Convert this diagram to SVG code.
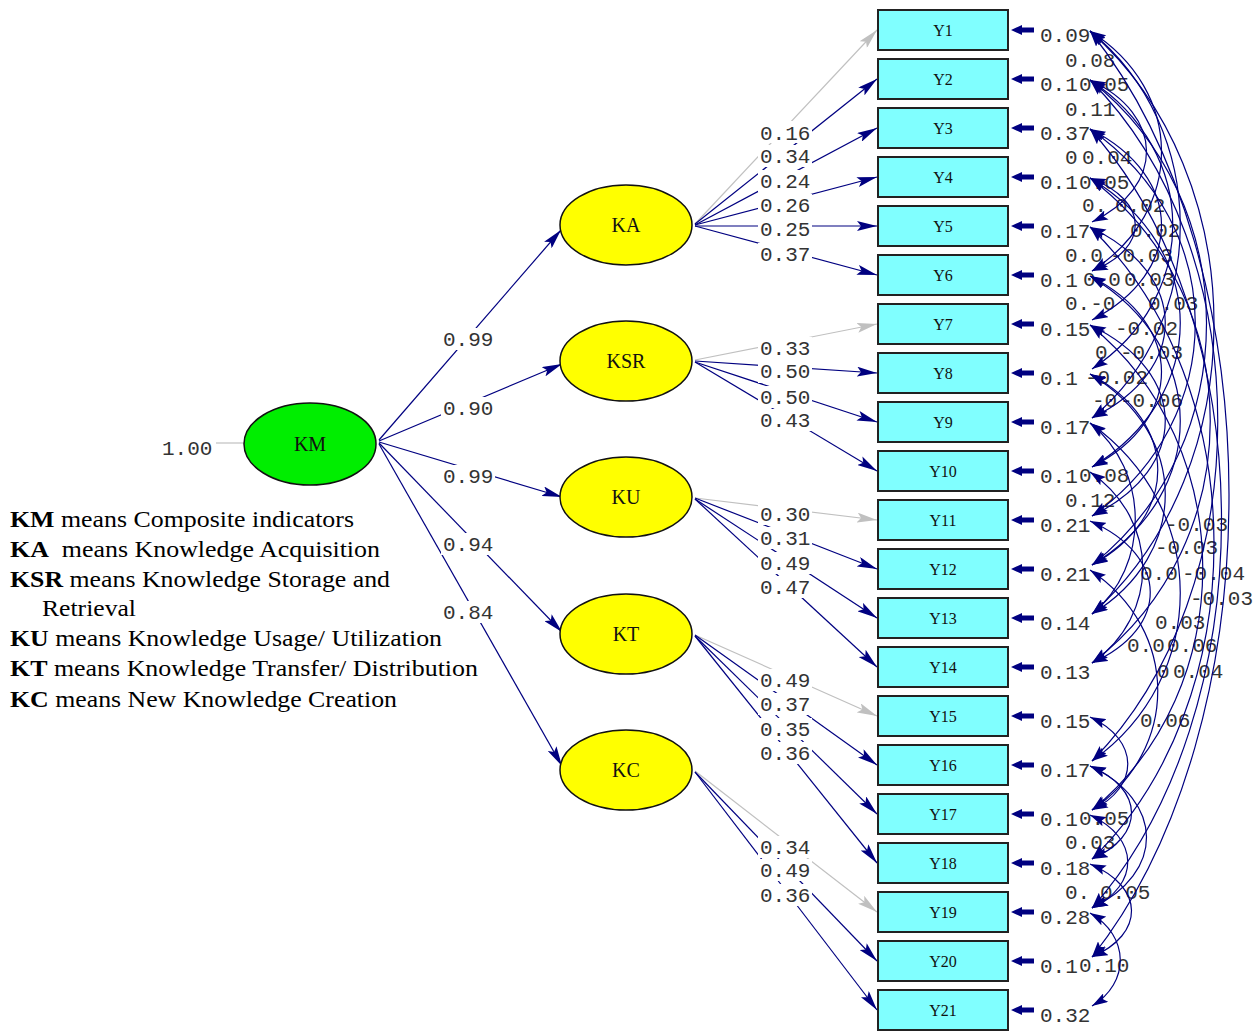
<svg xmlns="http://www.w3.org/2000/svg" xmlns:xlink="http://www.w3.org/1999/xlink" width="1256" height="1034" viewBox="0 0 1256 1034">
<style>
.ln{stroke:#000080;stroke-width:1.2;fill:none;marker-end:url(#ahL)}
.lg{stroke:#c0c0c0;stroke-width:1.2;fill:none;marker-end:url(#ahG)}
.arc{stroke:#000080;stroke-width:1.2;fill:none;marker-start:url(#ah);marker-end:url(#ah)}
.num{font-family:"Liberation Mono","DejaVu Sans Mono",monospace;font-size:21px;fill:#333}
.bg{fill:#fff}
.box{fill:#80ffff;stroke:#222;stroke-width:2}
.bt{font-family:"Liberation Serif","DejaVu Serif",serif;font-size:16px;fill:#111;text-anchor:middle}
.et{font-family:"Liberation Serif","DejaVu Serif",serif;font-size:20px;fill:#111;text-anchor:middle}
.fac{fill:#ffff00;stroke:#111;stroke-width:1.5}
.leg{font-family:"Liberation Serif","Times New Roman",serif;font-size:23px;fill:#000}
.ea{fill:#000080}
</style>
<defs>
<marker id="ahL" viewBox="0 0 20 10" refX="20" refY="5" markerWidth="20" markerHeight="10" markerUnits="userSpaceOnUse" orient="auto"><path d="M0,0 L20,5 L0,10 L4,5 Z" fill="#000080"/></marker>
<marker id="ahG" viewBox="0 0 20 10" refX="20" refY="5" markerWidth="20" markerHeight="10" markerUnits="userSpaceOnUse" orient="auto"><path d="M0,0 L20,5 L0,10 L4,5 Z" fill="#c0c0c0"/></marker>
<marker id="ah" viewBox="0 0 16 10" refX="16" refY="5" markerWidth="16" markerHeight="10" markerUnits="userSpaceOnUse" orient="auto-start-reverse"><path d="M0,0 L16,5 L0,10 L3,5 Z" fill="#000080"/></marker>
<path id="ea" d="M23,-2.5 H11 V-5 L0,0 L11,5 V2.5 H23 Z"/>
</defs>

<g id="connectors">
<line x1="216" y1="443" x2="245" y2="443" stroke="#c0c0c0" stroke-width="1.2"/>
<line class="ln" x1="379" y1="440" x2="561" y2="230"/>
<line class="ln" x1="379" y1="441" x2="562" y2="364"/>
<line class="ln" x1="379" y1="442" x2="562" y2="497"/>
<line class="ln" x1="379" y1="443" x2="562" y2="632"/>
<line class="ln" x1="379" y1="444" x2="562" y2="766"/>

<line class="lg" x1="695" y1="224" x2="877" y2="30"/>
<line class="ln" x1="695" y1="224" x2="877" y2="79"/>
<line class="ln" x1="695" y1="225" x2="877" y2="128"/>
<line class="ln" x1="695" y1="225" x2="877" y2="177"/>
<line class="ln" x1="695" y1="226" x2="877" y2="226"/>
<line class="ln" x1="695" y1="226" x2="877" y2="275"/>

<line class="lg" x1="695" y1="360" x2="877" y2="324"/>
<line class="ln" x1="695" y1="361" x2="877" y2="373"/>
<line class="ln" x1="695" y1="362" x2="877" y2="422"/>
<line class="ln" x1="695" y1="362" x2="877" y2="471"/>

<line class="lg" x1="695" y1="498" x2="877" y2="520"/>
<line class="ln" x1="695" y1="498" x2="877" y2="569"/>
<line class="ln" x1="695" y1="499" x2="877" y2="618"/>
<line class="ln" x1="695" y1="499" x2="877" y2="667"/>

<line class="lg" x1="695" y1="635" x2="877" y2="716"/>
<line class="ln" x1="695" y1="635" x2="877" y2="765"/>
<line class="ln" x1="695" y1="636" x2="877" y2="814"/>
<line class="ln" x1="695" y1="636" x2="877" y2="863"/>

<line class="lg" x1="695" y1="771" x2="877" y2="912"/>
<line class="ln" x1="695" y1="772" x2="877" y2="961"/>
<line class="ln" x1="695" y1="772" x2="877" y2="1010"/>

<g class="ea">
<use xlink:href="#ea" x="1011" y="30"/><use xlink:href="#ea" x="1011" y="79"/><use xlink:href="#ea" x="1011" y="128"/>
<use xlink:href="#ea" x="1011" y="177"/><use xlink:href="#ea" x="1011" y="226"/><use xlink:href="#ea" x="1011" y="275"/>
<use xlink:href="#ea" x="1011" y="324"/><use xlink:href="#ea" x="1011" y="373"/><use xlink:href="#ea" x="1011" y="422"/>
<use xlink:href="#ea" x="1011" y="471"/><use xlink:href="#ea" x="1011" y="520"/><use xlink:href="#ea" x="1011" y="569"/>
<use xlink:href="#ea" x="1011" y="618"/><use xlink:href="#ea" x="1011" y="667"/><use xlink:href="#ea" x="1011" y="716"/>
<use xlink:href="#ea" x="1011" y="765"/><use xlink:href="#ea" x="1011" y="814"/><use xlink:href="#ea" x="1011" y="863"/>
<use xlink:href="#ea" x="1011" y="912"/><use xlink:href="#ea" x="1011" y="961"/><use xlink:href="#ea" x="1011" y="1010"/>
</g>
</g>

<g id="loading-labels" class="num">
<rect class="bg" x="441" y="328" width="54" height="22"/><text x="443" y="346">0.99</text>
<rect class="bg" x="441" y="397" width="54" height="22"/><text x="443" y="415">0.90</text>
<rect class="bg" x="441" y="465" width="54" height="22"/><text x="443" y="483">0.99</text>
<rect class="bg" x="441" y="533" width="54" height="22"/><text x="443" y="551">0.94</text>
<rect class="bg" x="441" y="601" width="54" height="22"/><text x="443" y="619">0.84</text>
<text x="162" y="455">1.00</text>

<rect class="bg" x="758" y="121" width="54" height="22"/><text x="760" y="140">0.16</text>
<rect class="bg" x="758" y="145" width="54" height="22"/><text x="760" y="163">0.34</text>
<rect class="bg" x="758" y="170" width="54" height="22"/><text x="760" y="188">0.24</text>
<rect class="bg" x="758" y="194" width="54" height="22"/><text x="760" y="212">0.26</text>
<rect class="bg" x="758" y="219" width="54" height="22"/><text x="760" y="236">0.25</text>
<rect class="bg" x="758" y="243" width="54" height="22"/><text x="760" y="261">0.37</text>

<rect class="bg" x="758" y="337" width="54" height="22"/><text x="760" y="355">0.33</text>
<rect class="bg" x="758" y="361" width="54" height="22"/><text x="760" y="378">0.50</text>
<rect class="bg" x="758" y="386" width="54" height="22"/><text x="760" y="404">0.50</text>
<rect class="bg" x="758" y="409" width="54" height="22"/><text x="760" y="427">0.43</text>

<rect class="bg" x="758" y="503" width="54" height="22"/><text x="760" y="521">0.30</text>
<rect class="bg" x="758" y="527" width="54" height="22"/><text x="760" y="545">0.31</text>
<rect class="bg" x="758" y="552" width="54" height="22"/><text x="760" y="570">0.49</text>
<rect class="bg" x="758" y="576" width="54" height="22"/><text x="760" y="594">0.47</text>

<rect class="bg" x="758" y="669" width="54" height="22"/><text x="760" y="687">0.49</text>
<rect class="bg" x="758" y="693" width="54" height="22"/><text x="760" y="711">0.37</text>
<rect class="bg" x="758" y="718" width="54" height="22"/><text x="760" y="736">0.35</text>
<rect class="bg" x="758" y="742" width="54" height="22"/><text x="760" y="760">0.36</text>

<rect class="bg" x="758" y="836" width="54" height="22"/><text x="760" y="854">0.34</text>
<rect class="bg" x="758" y="859" width="54" height="22"/><text x="760" y="877">0.49</text>
<rect class="bg" x="758" y="884" width="54" height="22"/><text x="760" y="902">0.36</text>
</g>

<g id="error-labels" class="num">
<text x="1040" y="42">0.09</text><text x="1040" y="91">0.1</text><text x="1040" y="140">0.37</text>
<text x="1040" y="189">0.1</text><text x="1040" y="238">0.17</text><text x="1040" y="287">0.1</text>
<text x="1040" y="336">0.15</text><text x="1040" y="385">0.1</text><text x="1040" y="434">0.17</text>
<text x="1040" y="483">0.1</text><text x="1040" y="532">0.21</text><text x="1040" y="581">0.21</text>
<text x="1040" y="630">0.14</text><text x="1040" y="679">0.13</text><text x="1040" y="728">0.15</text>
<text x="1040" y="777">0.17</text><text x="1040" y="826">0.1</text><text x="1040" y="875">0.18</text>
<text x="1040" y="924">0.28</text><text x="1040" y="973">0.1</text><text x="1040" y="1022">0.32</text>
</g>

<g id="covariance-labels" class="num">
<text x="1065" y="67">0.08</text>
<text x="1079" y="91">0.05</text>
<text x="1065" y="116">0.11</text>
<text x="1065" y="164">0</text><text x="1082" y="164">0.04</text>
<text x="1079" y="189">0.05</text>
<text x="1082" y="212">0.</text><text x="1115" y="212">0.02</text>
<text x="1130" y="237">0.02</text>
<text x="1065" y="262">0.0</text><text x="1110" y="262">-0.03</text>
<text x="1083" y="286">0.0</text><text x="1124" y="286">0.03</text>
<text x="1065" y="310">0.-0</text><text x="1148" y="310">0.03</text>
<text x="1115" y="335">-0.02</text>
<text x="1095" y="359">0</text><text x="1120" y="359">-0.03</text>
<text x="1085" y="384">-0.02</text>
<text x="1092" y="407">-0</text><text x="1120" y="407">-0.06</text>
<text x="1079" y="482">0.08</text>
<text x="1065" y="507">0.12</text>
<text x="1165" y="531">-0.03</text>
<text x="1155" y="554">-0.03</text>
<text x="1140" y="580">0.0</text><text x="1182" y="580">-0.04</text>
<text x="1190" y="605">-0.03</text>
<text x="1155" y="629">0.03</text>
<text x="1127" y="652">0.0</text><text x="1167" y="652">0.06</text>
<text x="1157" y="678">0</text><text x="1173" y="678">0.04</text>
<text x="1140" y="727">0.06</text>
<text x="1079" y="825">0.05</text>
<text x="1065" y="849">0.03</text>
<text x="1065" y="899">0.</text><text x="1100" y="899">0.05</text>
<text x="1079" y="972">0.10</text>
</g>

<g id="covariances">
<path class="arc" d="M1090,31 C1185,91 1185,211 1092,271"/>
<path class="arc" d="M1090,31 C1210,128 1210,321 1092,418"/>
<path class="arc" d="M1090,31 C1255,177 1255,468 1092,614"/>
<path class="arc" d="M1090,31 C1275,262 1275,726 1092,957"/>
<path class="arc" d="M1090,80 C1165,115 1165,187 1092,222"/>
<path class="arc" d="M1090,80 C1200,152 1200,297 1092,369"/>
<path class="arc" d="M1090,80 C1245,201 1245,444 1092,565"/>
<path class="arc" d="M1090,80 C1260,250 1260,591 1092,761"/>
<path class="arc" d="M1090,129 C1185,177 1185,272 1092,320"/>
<path class="arc" d="M1090,129 C1230,226 1230,419 1092,516"/>
<path class="arc" d="M1090,129 C1265,324 1265,713 1092,908"/>
<path class="arc" d="M1090,178 C1150,201 1150,248 1092,271"/>
<path class="arc" d="M1090,178 C1210,250 1210,395 1092,467"/>
<path class="arc" d="M1090,178 C1250,299 1250,542 1092,663"/>
<path class="arc" d="M1090,227 C1190,275 1190,370 1092,418"/>
<path class="arc" d="M1090,227 C1255,385 1255,701 1092,859"/>
<path class="arc" d="M1090,276 C1185,324 1185,419 1092,467"/>
<path class="arc" d="M1090,276 C1210,348 1210,493 1092,565"/>
<path class="arc" d="M1090,325 C1190,373 1190,468 1092,516"/>
<path class="arc" d="M1090,325 C1240,446 1240,689 1092,810"/>
<path class="arc" d="M1090,374 C1180,422 1180,517 1092,565"/>
<path class="arc" d="M1090,374 C1190,434 1190,554 1092,614"/>
<path class="arc" d="M1090,423 C1150,471 1150,566 1092,614"/>
<path class="arc" d="M1090,423 C1210,508 1210,677 1092,761"/>
<path class="arc" d="M1090,472 C1160,520 1160,615 1092,663"/>
<path class="arc" d="M1090,521 C1170,556 1170,628 1092,663"/>
<path class="arc" d="M1090,570 C1180,630 1180,750 1092,810"/>
<path class="arc" d="M1090,717 C1140,740 1140,787 1092,810"/>
<path class="arc" d="M1090,766 C1145,789 1145,836 1092,859"/>
<path class="arc" d="M1090,766 C1165,801 1165,873 1092,908"/>
<path class="arc" d="M1090,815 C1140,838 1140,885 1092,908"/>
<path class="arc" d="M1090,864 C1145,887 1145,934 1092,957"/>
<path class="arc" d="M1090,913 C1130,936 1130,983 1092,1006"/>
</g>

<g id="KM"><ellipse cx="310" cy="444" rx="66" ry="41" fill="#00ee00" stroke="#111" stroke-width="1.5"/><text class="et" x="310" y="451">KM</text></g>
<g id="KA"><ellipse class="fac" cx="626" cy="225" rx="66" ry="40"/><text class="et" x="626" y="232">KA</text></g>
<g id="KSR"><ellipse class="fac" cx="626" cy="361" rx="66" ry="40"/><text class="et" x="626" y="368">KSR</text></g>
<g id="KU"><ellipse class="fac" cx="626" cy="497" rx="66" ry="40"/><text class="et" x="626" y="504">KU</text></g>
<g id="KT"><ellipse class="fac" cx="626" cy="634" rx="66" ry="40"/><text class="et" x="626" y="641">KT</text></g>
<g id="KC"><ellipse class="fac" cx="626" cy="770" rx="66" ry="40"/><text class="et" x="626" y="777">KC</text></g>

<g id="Y1"><rect class="box" x="878" y="10" width="130" height="40"/><text class="bt" x="943" y="36">Y1</text></g>
<g id="Y2"><rect class="box" x="878" y="59" width="130" height="40"/><text class="bt" x="943" y="85">Y2</text></g>
<g id="Y3"><rect class="box" x="878" y="108" width="130" height="40"/><text class="bt" x="943" y="134">Y3</text></g>
<g id="Y4"><rect class="box" x="878" y="157" width="130" height="40"/><text class="bt" x="943" y="183">Y4</text></g>
<g id="Y5"><rect class="box" x="878" y="206" width="130" height="40"/><text class="bt" x="943" y="232">Y5</text></g>
<g id="Y6"><rect class="box" x="878" y="255" width="130" height="40"/><text class="bt" x="943" y="281">Y6</text></g>
<g id="Y7"><rect class="box" x="878" y="304" width="130" height="40"/><text class="bt" x="943" y="330">Y7</text></g>
<g id="Y8"><rect class="box" x="878" y="353" width="130" height="40"/><text class="bt" x="943" y="379">Y8</text></g>
<g id="Y9"><rect class="box" x="878" y="402" width="130" height="40"/><text class="bt" x="943" y="428">Y9</text></g>
<g id="Y10"><rect class="box" x="878" y="451" width="130" height="40"/><text class="bt" x="943" y="477">Y10</text></g>
<g id="Y11"><rect class="box" x="878" y="500" width="130" height="40"/><text class="bt" x="943" y="526">Y11</text></g>
<g id="Y12"><rect class="box" x="878" y="549" width="130" height="40"/><text class="bt" x="943" y="575">Y12</text></g>
<g id="Y13"><rect class="box" x="878" y="598" width="130" height="40"/><text class="bt" x="943" y="624">Y13</text></g>
<g id="Y14"><rect class="box" x="878" y="647" width="130" height="40"/><text class="bt" x="943" y="673">Y14</text></g>
<g id="Y15"><rect class="box" x="878" y="696" width="130" height="40"/><text class="bt" x="943" y="722">Y15</text></g>
<g id="Y16"><rect class="box" x="878" y="745" width="130" height="40"/><text class="bt" x="943" y="771">Y16</text></g>
<g id="Y17"><rect class="box" x="878" y="794" width="130" height="40"/><text class="bt" x="943" y="820">Y17</text></g>
<g id="Y18"><rect class="box" x="878" y="843" width="130" height="40"/><text class="bt" x="943" y="869">Y18</text></g>
<g id="Y19"><rect class="box" x="878" y="892" width="130" height="40"/><text class="bt" x="943" y="918">Y19</text></g>
<g id="Y20"><rect class="box" x="878" y="941" width="130" height="40"/><text class="bt" x="943" y="967">Y20</text></g>
<g id="Y21"><rect class="box" x="878" y="990" width="130" height="40"/><text class="bt" x="943" y="1016">Y21</text></g>

<g id="legend" class="leg">
<text x="10" y="527" textLength="344" lengthAdjust="spacingAndGlyphs"><tspan font-weight="bold">KM</tspan> means Composite indicators</text>
<text x="10" y="557" textLength="370" lengthAdjust="spacingAndGlyphs" xml:space="preserve"><tspan font-weight="bold">KA</tspan>  means Knowledge Acquisition</text>
<text x="10" y="587" textLength="380" lengthAdjust="spacingAndGlyphs"><tspan font-weight="bold">KSR</tspan> means Knowledge Storage and</text>
<text x="42" y="616" textLength="94" lengthAdjust="spacingAndGlyphs">Retrieval</text>
<text x="10" y="646" textLength="432" lengthAdjust="spacingAndGlyphs"><tspan font-weight="bold">KU</tspan> means Knowledge Usage/ Utilization</text>
<text x="10" y="676" textLength="468" lengthAdjust="spacingAndGlyphs"><tspan font-weight="bold">KT</tspan> means Knowledge Transfer/ Distribution</text>
<text x="10" y="707" textLength="387" lengthAdjust="spacingAndGlyphs"><tspan font-weight="bold">KC</tspan> means New Knowledge Creation</text>
</g>
</svg>
